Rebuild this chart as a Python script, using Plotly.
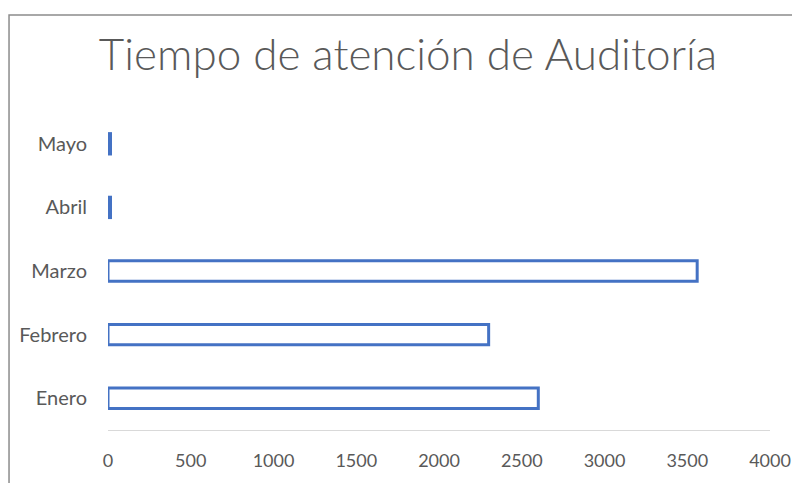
import plotly.graph_objects as go

meses = ["Enero", "Febrero", "Marzo", "Abril", "Mayo"]
tiempo = [2600, 2300, 3560, 15, 15]
x_ticks = [0, 500, 1000, 1500, 2000, 2500, 3000, 3500, 4000]

azul = "#4472C4"
gris = "#595959"

fig = go.Figure(
    go.Bar(
        x=tiempo,
        y=meses,
        orientation="h",
        marker=dict(color="white", line=dict(color=azul, width=3)),
    )
)

# la página añade 8 px de margen, así que se compensa aquí
fig.update_layout(
    width=800,
    height=483,
    paper_bgcolor="white",
    plot_bgcolor="white",
    margin=dict(l=100, r=38, t=104, b=61),
    bargap=0.68,
    showlegend=False,
    title=dict(
        text="Tiempo de atención de Auditoría",
        x=0.5,
        xanchor="center",
        y=0.903,
        yanchor="middle",
        font=dict(family="Lato", size=44, color=gris, weight=300),
    ),
    font=dict(family="Lato", size=18, color=gris),
)
fig.update_xaxes(
    range=[0, 4000],
    tickvals=x_ticks,
    tickfont=dict(size=18),
    showgrid=False,
    zeroline=False,
    showline=True,
    linecolor="#d9d9d9",
    linewidth=1,
    ticklabelstandoff=14,
    fixedrange=True,
)
fig.update_yaxes(
    range=[-0.5, 4.5],
    tickfont=dict(size=20),
    showgrid=False,
    showline=False,
    ticklabelstandoff=20,
)
# marco del gráfico
fig.add_shape(
    type="rect",
    xref="paper",
    yref="paper",
    x0=-0.1495,
    x1=1.2,
    y0=-0.3,
    y1=1.305,
    line=dict(color="#8c8c8c", width=1.5),
    fillcolor="rgba(0,0,0,0)",
    layer="below",
)

fig.write_html("out.html")
